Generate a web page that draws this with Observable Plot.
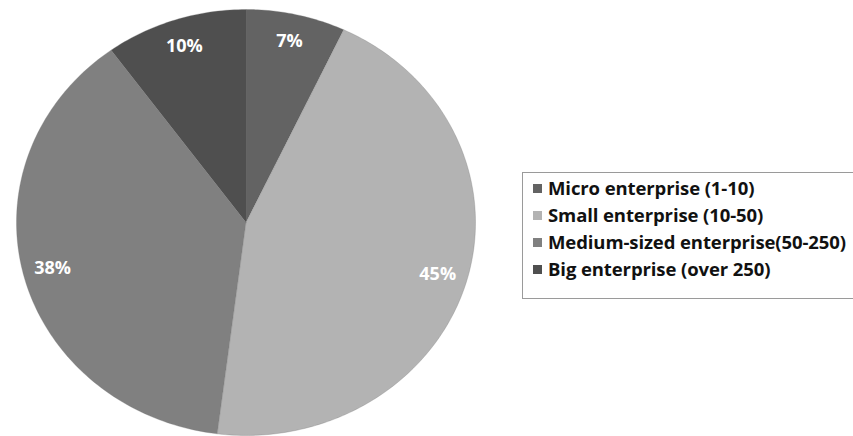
<!DOCTYPE html>
<html>
<head>
<meta charset="utf-8">
<script src="https://cdn.jsdelivr.net/npm/d3@7"></script>
<script src="https://cdn.jsdelivr.net/npm/@observablehq/plot@0.6"></script>
<style>
  html, body { margin: 0; padding: 0; background: #fff; overflow: hidden; }
  #wrap { position: relative; width: 853px; height: 436px; overflow: hidden; }
  #legend { position: absolute; left: 522px; top: 172px; width: 360px; height: 127px;
    border: 1px solid #9a9a9a; box-sizing: border-box; font-family: "Open Sans", Lato, sans-serif;
    font-weight: bold; font-size: 18.5px; color: #111; letter-spacing: -0.1px; }
  .item { position: absolute; left: 10px; display: flex; align-items: center; white-space: nowrap; line-height: 22px; }
  .sw { width: 9px; height: 9px; margin-right: 6px; }
</style>
</head>
<body>
<div id="wrap"><div id="chart"></div><div id="legend"></div></div>
<script>
const categories = ["Micro enterprise (1-10)", "Small enterprise (10-50)", "Medium-sized enterprise(50-250)", "Big enterprise (over 250)"];
const shares = [7, 45, 38, 10];
const pctLabels = ["7%", "45%", "38%", "10%"];
const colors = ["#636363", "#b3b3b3", "#808080", "#4f4f4f"];

const total = d3.sum(shares);
let acc = 0;
const poly = [];
const labelPts = [];
categories.forEach((c, i) => {
  const a0 = acc / total * 2 * Math.PI;
  acc += shares[i];
  const a1 = acc / total * 2 * Math.PI;
  poly.push({cat: c, x: 0, y: 0});
  const n = Math.max(2, Math.ceil((a1 - a0) / (Math.PI / 180)));
  for (let k = 0; k <= n; k++) {
    const a = a0 + (a1 - a0) * k / n;
    poly.push({cat: c, x: Math.sin(a), y: Math.cos(a)});
  }
  const am = (a0 + a1) / 2;
  labelPts.push({cat: c, text: pctLabels[i], x: 0.87 * Math.sin(am), y: 0.87 * Math.cos(am)});
});

const chart = Plot.plot({
  width: 853, height: 436,
  margin: 0,
  x: {domain: [-1, 1], range: [16, 475], axis: null},
  y: {domain: [-1, 1], range: [435, 9], axis: null},
  color: {domain: categories, range: colors},
  marks: [
    Plot.line(poly, {x: "x", y: "y", z: "cat", fill: "cat", stroke: "#777", strokeWidth: 0.6, strokeOpacity: 0.5, curve: "linear"}),
    Plot.text(labelPts, {x: "x", y: "y", text: "text", fill: "white", fontWeight: "bold", fontSize: 18, fontFamily: "'Open Sans', Lato, sans-serif"})
  ]
});
document.getElementById("chart").appendChild(chart);

const legend = document.getElementById("legend");
categories.forEach((c, i) => {
  const it = document.createElement("div");
  it.className = "item";
  it.style.top = (4 + i * 27) + "px";
  const sw = document.createElement("span");
  sw.className = "sw";
  sw.style.background = colors[i];
  it.appendChild(sw);
  const t = document.createElement("span");
  t.textContent = c;
  it.appendChild(t);
  legend.appendChild(it);
});
</script>
</body>
</html>
